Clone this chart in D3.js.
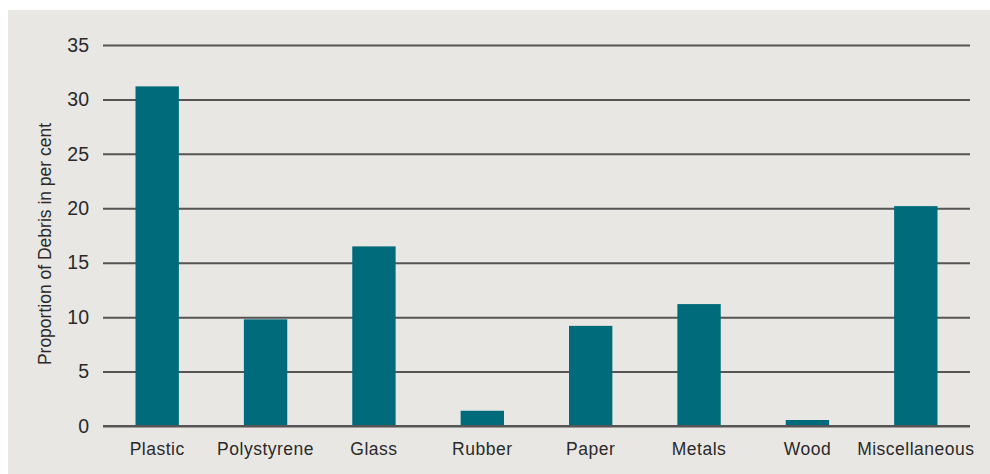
<!DOCTYPE html>
<html><head><meta charset="utf-8">
<script src="https://cdn.jsdelivr.net/npm/d3@7"></script>
<style>body{margin:0;background:#fff;}svg{display:block;}</style>
</head><body>
<svg id="c" width="990" height="474"></svg>
<script>
const categories = ["Plastic","Polystyrene","Glass","Rubber","Paper","Metals","Wood","Miscellaneous"];
const values = [31.2, 9.8, 16.5, 1.4, 9.2, 11.2, 0.55, 20.2];
const yTicks = [0,5,10,15,20,25,30,35];
const yLabel = "Proportion of Debris in per cent";

const svg = d3.select("#c");
svg.append("rect").attr("x",8).attr("y",10).attr("width",982).attr("height",464).attr("fill","#e9e7e4");

const x = d3.scaleBand().domain(categories).range([103,970]).paddingInner(0.6).paddingOuter(0.3);
const y = d3.scaleLinear().domain([0,35]).range([426,45]);

const font = "'Liberation Sans', Arial, sans-serif";

const yAxis = svg.append("g").attr("transform","translate(103,0)")
  .call(d3.axisLeft(y).tickValues(yTicks).tickSize(-867).tickPadding(14));
yAxis.select(".domain").remove();
yAxis.selectAll(".tick line").attr("stroke","#555").attr("stroke-width",2);
yAxis.selectAll(".tick text").attr("fill","#2a2a2a").attr("font-size",19.5).attr("font-family",font);

svg.append("g").selectAll("rect").data(values).join("rect")
  .attr("x",(d,i)=>x(categories[i]))
  .attr("width",x.bandwidth())
  .attr("y",d=>y(d))
  .attr("height",d=>y(0)-y(d))
  .attr("fill","#006b7a");

svg.append("line").attr("x1",103).attr("x2",970).attr("y1",y(0)).attr("y2",y(0)).attr("stroke","#555").attr("stroke-width",2);

const xAxis = svg.append("g").attr("transform",`translate(0,${y(0)})`)
  .call(d3.axisBottom(x).tickSize(0).tickPadding(17));
xAxis.select(".domain").remove();
xAxis.selectAll(".tick text").attr("fill","#2a2a2a").attr("font-size",17.5).attr("letter-spacing","0.5px").attr("font-family",font);

svg.append("text").attr("transform","translate(51,244) rotate(-90)")
  .attr("text-anchor","middle").attr("font-size",17.5).attr("font-family",font).attr("fill","#2a2a2a")
  .text(yLabel);
</script>
</body></html>
